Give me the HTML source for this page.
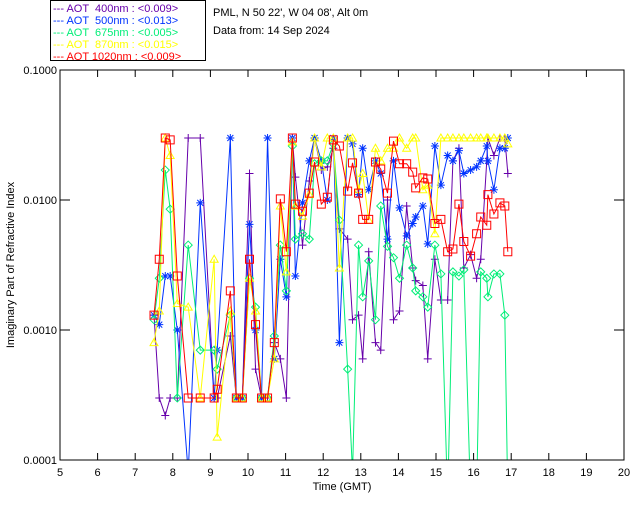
<!DOCTYPE html>
<html><head><meta charset="utf-8"><style>
body{margin:0;background:#fff;}
svg{display:block;font-family:"Liberation Sans",sans-serif;}
</style></head><body>
<svg id="chart" width="640" height="512" viewBox="0 0 640 512" xmlns="http://www.w3.org/2000/svg">
<rect width="640" height="512" fill="#fff"/>
<g>
<rect x="50.5" y="0.5" width="155" height="60" fill="#fff" stroke="#000"/>
<g font-size="11">
<text x="53" y="12" fill="#6600aa">--- AOT &#160;400nm : &lt;0.009&gt;</text>
<text x="53" y="24" fill="#0033ff">--- AOT &#160;500nm : &lt;0.013&gt;</text>
<text x="53" y="36" fill="#00ee77">--- AOT &#160;675nm : &lt;0.005&gt;</text>
<text x="53" y="48" fill="#ffff00">--- AOT &#160;870nm : &lt;0.015&gt;</text>
<text x="53" y="60" fill="#ff0000">--- AOT 1020nm : &lt;0.009&gt;</text>
</g></g>
<text x="213" y="16" font-size="11">PML, N 50 22', W 04 08', Alt 0m</text>
<text x="213" y="34" font-size="11">Data from: 14 Sep 2024</text>
<defs><clipPath id="clip"><rect x="60" y="70" width="564" height="390"/></clipPath></defs>
<g id="series" clip-path="url(#clip)"></g>
<g id="axes"></g>
<text x="342" y="490" font-size="11" text-anchor="middle">Time (GMT)</text>
<text transform="translate(14,265) rotate(-90)" font-size="11" text-anchor="middle">Imaginary Part of Refractive Index</text>
</svg>
<script>
const times=[7.50,7.64,7.80,7.93,8.12,8.41,8.73,9.10,9.18,9.53,9.69,9.85,10.04,10.20,10.36,10.52,10.70,10.86,11.02,11.18,11.26,11.45,11.63,11.77,11.95,12.11,12.27,12.43,12.65,12.78,12.94,13.05,13.21,13.39,13.53,13.71,13.87,14.03,14.22,14.38,14.46,14.65,14.78,14.97,15.13,15.31,15.45,15.61,15.74,15.92,16.08,16.19,16.35,16.38,16.54,16.70,16.83,16.91];
const aot400=[.0013,.0003,.00022,.0003,.0003,.03,.03,.0003,.0003,.0009,.0003,.0003,.016,.0005,.0003,.0003,.0008,.0006,.0003,.03,.015,.0045,.014,.03,.017,.018,.025,.006,.005,.0012,.0013,.0006,.004,.0008,.0007,.01,.0012,.0014,.009,.003,.0024,.0022,.0006,.0035,.0017,.0017,.02,.025,.003,.0038,.0025,.0035,.02,.03,.022,.03,.03,.016];
const aot500=[.0013,.0011,.0026,.0026,.001,.00008,.0095,.0003,.0007,.03,.0003,.0003,.0065,.001,.0003,.03,.0006,.0035,.0018,.03,.0026,.0095,.02,.03,.02,.01,.03,.0008,.03,.027,.011,.025,.012,.02,.016,.005,.02,.0087,.0053,.0066,.0074,.009,.0046,.026,.013,.022,.02,.024,.016,.017,.018,.02,.026,.02,.012,.025,.025,.03];
const aot675=[.0012,.0025,.017,.0085,.0003,.0045,.0007,.0007,.0005,.0013,.0003,.0003,.0025,.0015,.0003,.0003,.0009,.0045,.002,.026,.005,.0055,.005,.019,.02,.02,.027,.007,.0005,.00008,.0045,.0018,.0034,.0012,.009,.0044,.0036,.0025,.0045,.003,.002,.0018,.0015,.0045,.0027,.00005,.0028,.0026,.0029,.00005,.00005,.0028,.0025,.0018,.0027,.0027,.0013,.00005];
const aot870=[.0008,.0014,.03,.022,.0016,.0015,.0003,.0035,.00015,.0014,.0003,.0003,.0025,.0014,.0003,.0003,.0006,.009,.0028,.028,.009,.0075,.011,.03,.018,.03,.03,.003,.03,.03,.012,.016,.007,.025,.02,.025,.025,.03,.025,.03,.03,.012,.013,.0055,.03,.03,.03,.03,.03,.03,.03,.03,.03,.03,.03,.03,.03,.027];
const aot1020=[.0013,.0035,.03,.029,.0026,.0003,.0003,.0003,.00035,.002,.0003,.0003,.0035,.0011,.0003,.0003,.0008,.0102,.004,.03,.0093,.0082,.0113,.0196,.0093,.0105,.029,.026,.0117,.0193,.0113,.0071,.0071,.0196,.0173,.0113,.0284,.019,.019,.0164,.0124,.0148,.0145,.0066,.0071,.004,.0042,.0093,.0048,.0037,.0055,.0074,.0064,.011,.0078,.0095,.009,.004];
const xTicks=[5,6,7,8,9,10,11,12,13,14,15,16,17,18,19,20];
const yTicks=[0.0001,0.001,0.01,0.1];
const yTickLabels=["0.0001","0.0010","0.0100","0.1000"];

const NS="http://www.w3.org/2000/svg";
const X0=60,X1=624,Y0=70,Y1=460;
const xs=t=>X0+(t-5)/(20-5)*(X1-X0);
const ys=v=>Y0+(-1-Math.log10(v))/3*(Y1-Y0);
function mk(tag,parent){const e=document.createElementNS(NS,tag);parent.appendChild(e);return e;}
const axes=document.getElementById('axes');
const frame=mk('path',axes);


frame.setAttribute('d',`M${X0} ${Y0}H${X1}V${Y1}H${X0}Z`);
frame.setAttribute('fill','none');frame.setAttribute('stroke','#000');
xTicks.forEach(t=>{
  const x=xs(t);
  const tk=mk('path',axes);
  
  
  tk.setAttribute('d',`M${x} ${Y1}V${Y1-7}M${x} ${Y0}V${Y0+7}`);tk.setAttribute('stroke','#000');
  const tx=mk('text',axes);
  
  
  tx.setAttribute('x',x);tx.setAttribute('y',Y1+16);tx.setAttribute('font-size','11');tx.setAttribute('text-anchor','middle');
  tx.textContent=t;
});
yTicks.forEach((v,i)=>{
  const y=ys(v);
  const tk=mk('path',axes);
  
  
  tk.setAttribute('d',`M${X0} ${y}H${X0+10}M${X1} ${y}H${X1-10}`);tk.setAttribute('stroke','#000');
  const tx=mk('text',axes);
  
  
  tx.setAttribute('x',X0-3);tx.setAttribute('y',y+4);tx.setAttribute('font-size','11');tx.setAttribute('text-anchor','end');
  tx.textContent=yTickLabels[i];
});
const series=[
 {name:'400nm',vals:aot400,col:'#6600aa',m:'plus'},
 {name:'500nm',vals:aot500,col:'#0033ff',m:'star'},
 {name:'675nm',vals:aot675,col:'#00ee77',m:'diamond'},
 {name:'870nm',vals:aot870,col:'#ffff00',m:'tri'},
 {name:'1020nm',vals:aot1020,col:'#ff0000',m:'square'}];
const sg=document.getElementById('series');
series.forEach(s=>{
  const g=mk('g',sg);
  
  
  const pl=mk('polyline',g);
  
  
  pl.setAttribute('points',times.map((t,i)=>xs(t)+','+ys(s.vals[i])).join(' '));
  pl.setAttribute('fill','none');pl.setAttribute('stroke',s.col);pl.setAttribute('stroke-width','1');
  times.forEach((t,i)=>{
    const x=xs(t),y=ys(s.vals[i]);let d;
    if(s.m==='plus')d=`M${x-4} ${y}H${x+4}M${x} ${y-4}V${y+4}`;
    else if(s.m==='star')d=`M${x-4} ${y}H${x+4}M${x} ${y-4}V${y+4}M${x-3} ${y-3}L${x+3} ${y+3}M${x-3} ${y+3}L${x+3} ${y-3}`;
    else if(s.m==='diamond')d=`M${x} ${y-4}L${x+4} ${y}L${x} ${y+4}L${x-4} ${y}Z`;
    else if(s.m==='tri')d=`M${x} ${y-4}L${x+4} ${y+3}L${x-4} ${y+3}Z`;
    else d=`M${x-4} ${y-4}H${x+4}V${y+4}H${x-4}Z`;
    const p=mk('path',g);
    
    
    p.setAttribute('d',d);p.setAttribute('fill','none');p.setAttribute('stroke',s.col);
  });
});
</script>
</body></html>
